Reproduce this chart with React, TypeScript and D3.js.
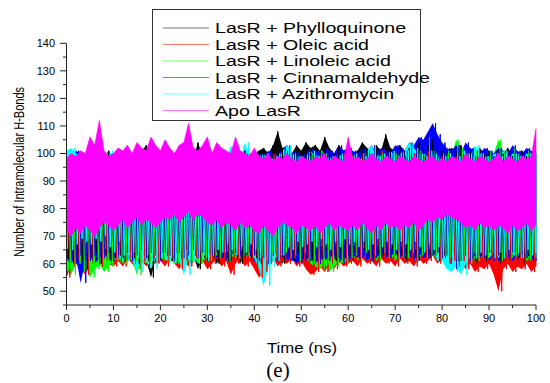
import * as d3 from 'd3';

// hydrogen bond counts, one hi/lo pair per ns (0..100)
const phylloHi = [97,99,98,100,97,99,98,100,99,101,98, 99,97,100,98,99,101,103,99,98,100, 99,101,98,100,97,99,98,104,99,98, 100,98,99,97,100,99,98,101,99,100, 101,102,100,103,108,102,101,100,103,101, 104,102,103,101,106,102,100,103,101,102, 100,101,104,102,100,103,101,107,102,101, 103,101,102,100,104,102,103,105,102,101, 100,102,101,103,100,101,99,102,100,101, 99,101,100,102,99,100,101,99,100,98];
const phylloLo = [62,60,63,61,58,62,64,60,63,61,62, 63,61,64,62,60,63,61,55,62,64, 63,61,64,62,65,61,63,58,62,64, 62,60,63,61,64,62,60,63,61,62, 60,63,61,64,62,60,63,61,64,62, 63,61,64,62,65,63,61,64,62,63, 64,62,65,63,61,64,62,63,65,62, 63,61,64,62,65,63,62,64,61,63, 62,64,61,63,65,62,60,63,61,64, 62,60,63,61,64,62,60,63,61,62];

const oleicHi = [96,98,97,99,96,98,97,99,98,97,99, 98,96,99,97,98,100,97,99,98,96, 97,99,98,96,99,97,98,100,97,99, 98,97,99,96,98,97,99,98,100,97, 99,98,97,100,98,99,97,98,99,97, 98,100,97,99,98,97,99,98,100,97, 99,98,100,97,99,98,101,99,98,100, 98,99,97,100,98,99,101,98,97,99, 98,97,99,98,100,97,99,98,97,99, 98,100,97,99,98,97,99,98,100,97];
const oleicLo = [55,59,61,58,56,60,62,59,61,60,59, 61,59,62,60,58,61,59,62,60,61, 59,62,60,58,61,59,62,60,61,58, 60,62,59,61,56,60,62,59,61,58, 55,57,60,62,59,61,60,62,59,61, 58,56,57,59,57,60,58,61,59,60, 61,59,62,60,61,59,62,60,61,59, 62,60,61,59,62,60,61,63,60,62, 60,61,59,61,58,60,57,59,58,60, 56,50,58,60,57,59,58,60,57,59];

const linoleicHi = [97,99,98,96,99,97,98,100,97,99,98, 99,97,98,100,97,99,98,97,99,98, 98,97,99,98,100,97,98,99,97,98, 97,99,98,97,99,98,100,97,98,99, 98,97,99,98,100,97,99,98,97,99, 98,100,99,101,100,98,99,97,100,98, 99,98,100,97,99,98,100,99,98,100, 99,98,100,99,101,100,106,101,99,100, 101,99,105,102,100,99,101,100,99,101, 100,105,101,99,102,100,99,101,100,99];
const linoleicLo = [58,56,60,57,59,55,58,60,57,59,61, 62,60,63,61,56,62,60,63,61,62, 61,63,60,62,64,61,63,60,62,61, 63,62,64,61,63,62,64,63,62,64, 63,61,64,62,63,64,62,63,61,64, 62,60,59,58,60,57,59,61,60,62, 63,61,64,62,63,61,64,62,63,61, 63,62,64,61,63,62,64,63,62,63, 62,64,61,63,62,64,61,63,62,64, 63,61,64,62,63,62,64,61,63,62];

const cinnamHi = [98,99,101,100,98,99,97,100,98,99,100, 99,98,100,97,99,98,100,102,99,98, 99,98,100,99,97,100,98,99,100,98, 99,100,98,99,101,98,99,100,98,99, 100,99,101,100,99,102,103,100,101,99, 100,102,101,100,102,101,100,103,101,102, 101,100,102,101,103,100,102,101,100,103, 102,101,104,103,106,105,108,111,107,104, 102,101,103,100,104,102,101,100,102,101, 100,102,101,100,103,101,100,102,101,100];
const cinnamLo = [62,60,63,53,61,63,60,62,64,61,63, 62,64,61,63,65,62,64,63,61,64, 63,61,64,62,63,65,62,64,61,63, 64,62,63,61,64,63,62,64,63,61, 62,60,63,61,62,64,61,63,60,62, 61,63,60,62,61,63,62,60,63,61, 63,62,64,61,63,62,64,62,63,64, 62,64,63,61,64,62,63,64,62,63, 60,58,61,63,62,61,63,62,64,61, 63,61,62,64,61,63,62,64,61,63];

const azithroHi = [101,102,100,99,98,100,97,99,98,101,99, 98,100,97,99,98,100,99,97,98,100, 99,97,98,100,99,98,97,99,100,98, 99,98,100,97,103,99,98,104,99,98, 99,100,98,99,97,101,103,100,99,98, 99,101,99,100,98,99,97,100,98,99, 100,98,99,101,103,99,100,98,101,99, 100,101,104,102,100,99,101,100,98,99, 100,98,99,101,100,99,103,100,99,98, 100,99,101,98,100,99,98,100,99,101];
const azithroLo = [65,67,69,68,67,69,68,70,66,64,68, 63,61,64,62,57,63,61,58,62,64, 62,60,63,61,56,62,60,63,61,63, 65,64,67,65,63,66,64,67,65,62, 58,52,59,61,63,66,65,68,66,67, 68,66,69,67,65,68,66,69,67,68, 66,68,65,67,69,66,68,67,65,68, 67,65,68,66,64,67,65,66,61,61, 58,57,59,56,60,62,64,63,65,62, 64,62,65,63,64,62,65,63,64,62];

const apoHi = [98,100,99,101,100,106,103,112,101,99,100, 102,101,103,100,104,102,101,106,103,101, 105,102,100,103,104,111,102,101,103,106, 100,104,102,101,100,106,101,100,99,102, 99,98,100,97,99,98,100,98,97,99, 98,97,99,98,100,97,99,98,97,106, 98,99,97,98,100,98,97,99,98,97, 99,98,97,99,98,97,98,99,97,98, 97,99,98,97,100,98,97,99,98,97, 98,100,97,99,98,97,99,98,99,109];
const apoLo = [72,70,73,71,74,72,70,73,75,74,72, 74,76,73,75,77,74,76,75,73,75, 77,76,78,75,77,79,76,78,77,75, 74,76,73,75,74,72,75,73,74,72, 71,74,72,70,73,75,74,73,71,74, 73,72,74,71,73,75,72,74,73,72, 74,72,75,73,71,74,72,75,73,74, 72,74,73,75,72,74,76,75,77,76, 78,77,76,75,73,74,72,75,73,74, 72,74,73,71,74,72,73,75,72,74];

const seriesNames = [
  'LasR + Phylloquinone',
  'LasR + Oleic acid',
  'LasR + Linoleic acid',
  'LasR + Cinnamaldehyde',
  'LasR + Azithromycin',
  'Apo LasR',
];
const seriesColors = ['#000000', '#ff0000', '#00ff00', '#0000ff', '#00ffff', '#ff00ff'];
const seriesHi = [phylloHi, oleicHi, linoleicHi, cinnamHi, azithroHi, apoHi];
const seriesLo = [phylloLo, oleicLo, linoleicLo, cinnamLo, azithroLo, apoLo];

const xMajor = [0, 10, 20, 30, 40, 50, 60, 70, 80, 90, 100];
const yMajor = [50, 60, 70, 80, 90, 100, 110, 120, 130, 140];

type Pt = { t: number; hi: number; lo: number };

export default function App() {
  const width = 550,
    height = 383;

  const x = d3.scaleLinear().domain([0, 100]).range([66.5, 536]);
  const y = d3.scaleLinear().domain([45, 140]).range([305, 43.3]);

  const xMinor = d3.range(5, 100, 10);
  const yMinor = d3.range(45, 140, 10);

  const band = d3
    .area<Pt>()
    .x((d) => x(d.t))
    .y0((d) => y(d.lo))
    .y1((d) => y(d.hi));

  const areas = seriesHi.map((hi, k) => {
    const step = 100 / (hi.length - 1);
    return band(hi.map((h, i) => ({ t: i * step, hi: h, lo: seriesLo[k][i] }))) || '';
  });

  // complexes also as zigzag through the read extremes, shifted a bit so the colours mix
  const nBg = seriesHi.length - 1;
  const zig = d3.line<[number, number]>().x((d) => x(d[0])).y((d) => y(d[1]));
  const traces = seriesHi.slice(0, nBg).map((hi, k) => {
    const lo = seriesLo[k];
    const step = 100 / (hi.length - 1);
    const off = (k / nBg) * step;
    const pts: [number, number][] = [];
    hi.forEach((h, i) => {
      pts.push([Math.min(100, i * step + off), h]);
      pts.push([Math.min(100, i * step + off + step / 2), lo[i]]);
    });
    return zig(pts) || '';
  });

  const axisColor = '#222';
  const sans = 'Liberation Sans, Arial, sans-serif';

  return (
    <svg
      width={width}
      height={height}
      viewBox={`0 0 ${width} ${height}`}
      style={{ position: 'absolute', left: 0, top: 0, background: '#fff' }}
    >
      {areas.slice(0, nBg).map((d, k) => (
        <path key={'a' + k} d={d} fill={seriesColors[k]} stroke="none" />
      ))}
      {traces.map((d, k) => (
        <path
          key={seriesNames[k]}
          d={d}
          fill="none"
          stroke={seriesColors[k]}
          strokeWidth={1}
          strokeLinejoin="miter"
          strokeMiterlimit={2}
        />
      ))}
      <path d={areas[nBg]} fill="#ff00ff" stroke="#ff00ff" strokeWidth={0.6} />

      {/* x axis */}
      <line x1={x(0)} x2={x(100)} y1={305} y2={305} stroke={axisColor} />
      {xMajor.map((t) => (
        <g key={'xt' + t}>
          <line x1={x(t)} x2={x(t)} y1={305} y2={310} stroke={axisColor} />
          <text x={x(t)} y={322} textAnchor="middle" fontFamily={sans} fontSize={11}>
            {t}
          </text>
        </g>
      ))}
      {xMinor.map((t) => (
        <line key={'xm' + t} x1={x(t)} x2={x(t)} y1={305} y2={308} stroke={axisColor} />
      ))}

      {/* y axis */}
      <line x1={66.5} x2={66.5} y1={y(140)} y2={305} stroke={axisColor} />
      {yMajor.map((v) => (
        <g key={'yt' + v}>
          <line x1={60} x2={66.5} y1={y(v)} y2={y(v)} stroke={axisColor} />
          <text x={55} y={y(v) + 4} textAnchor="end" fontFamily={sans} fontSize={11}>
            {v}
          </text>
        </g>
      ))}
      {yMinor.map((v) => (
        <line key={'ym' + v} x1={63} x2={66.5} y1={y(v)} y2={y(v)} stroke={axisColor} />
      ))}

      <text
        transform="translate(24,172) rotate(-90)"
        textAnchor="middle"
        fontFamily="Liberation Sans Narrow, Arial Narrow, Liberation Sans, sans-serif"
        fontSize={14}
        textLength={170}
        lengthAdjust="spacingAndGlyphs"
      >
        Number of Intramolecular H-Bonds
      </text>
      <text
        x={302}
        y={353}
        textAnchor="middle"
        fontFamily={sans}
        fontSize={14}
        textLength={70}
        lengthAdjust="spacingAndGlyphs"
      >
        Time (ns)
      </text>
      <text
        x={278}
        y={377}
        textAnchor="middle"
        fontFamily="Liberation Serif, DejaVu Serif, serif"
        fontSize={21}
      >
        (e)
      </text>

      {/* legend */}
      <rect x={152.5} y={9.5} width={268} height={111} fill="#fff" stroke="#333" />
      {seriesNames.map((name, k) => {
        const cy = 28 + k * 16.5;
        return (
          <g key={'lg' + k}>
            <line
              x1={163}
              x2={209}
              y1={cy}
              y2={cy}
              stroke={seriesColors[k]}
              strokeOpacity={0.55}
            />
            <text
              transform={`translate(215,${cy + 5}) scale(1.4,1)`}
              fontFamily={sans}
              fontSize={14}
            >
              {name}
            </text>
          </g>
        );
      })}
    </svg>
  );
}
